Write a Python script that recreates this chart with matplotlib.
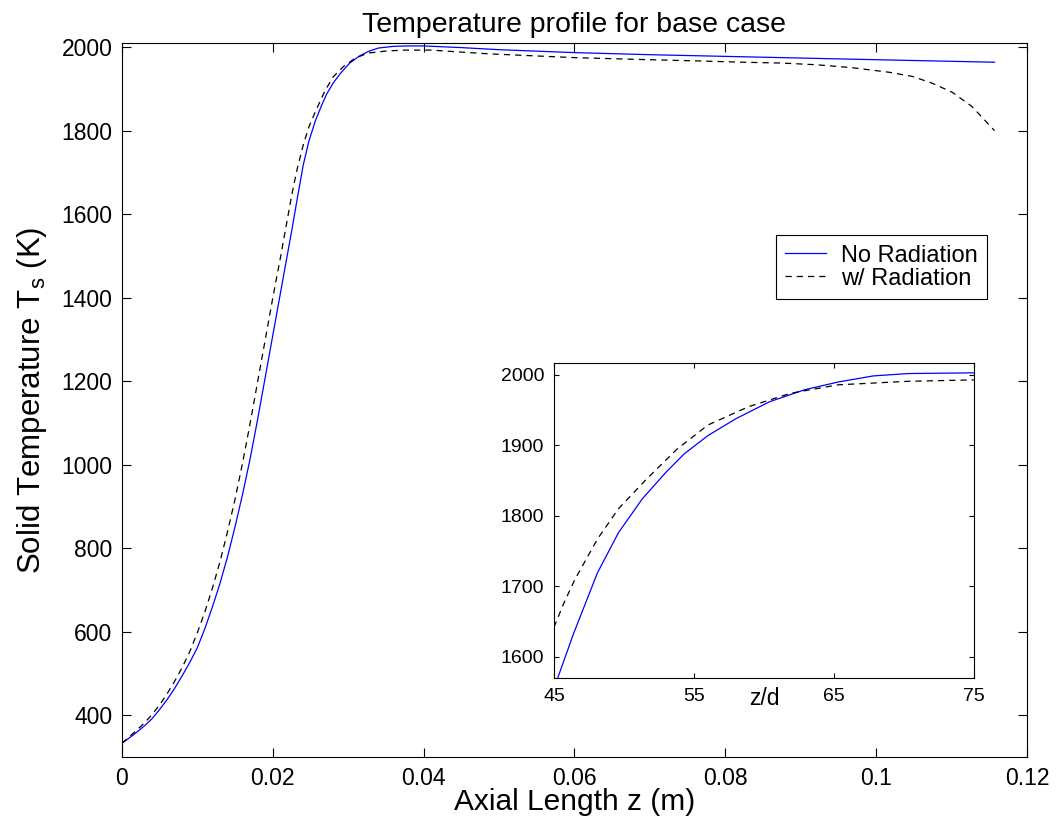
import numpy as np
import matplotlib
matplotlib.use('Agg')
import matplotlib.pyplot as plt

plt.rcParams['font.family'] = ['Liberation Sans', 'DejaVu Sans']
plt.rcParams['mathtext.fontset'] = 'custom'
plt.rcParams['mathtext.rm'] = 'Liberation Sans'

# main plot, axial length z (m) vs solid temperature (K)
z_norad = [0, 0.001, 0.002, 0.003, 0.004, 0.005, 0.006, 0.007, 0.008, 0.009,
           0.010, 0.011, 0.012, 0.013, 0.014, 0.015, 0.016, 0.017, 0.018, 0.019,
           0.020, 0.021, 0.022, 0.0226, 0.0232, 0.02405, 0.0248, 0.02565, 0.0265,
           0.02715, 0.028, 0.029, 0.0302, 0.0315, 0.0327, 0.034, 0.036, 0.038,
           0.040, 0.045, 0.050, 0.060, 0.070, 0.080, 0.090, 0.100, 0.1157]
T_norad = [333, 346, 360, 375, 392, 414, 438, 465, 495, 527,
           562, 608, 660, 716, 780, 852, 930, 1015, 1110, 1210,
           1310, 1410, 1510, 1570, 1633, 1719, 1776, 1824, 1862,
           1888, 1914, 1938, 1962, 1979, 1990, 1998, 2002, 2003,
           2003, 1999, 1994, 1987, 1982, 1978, 1974, 1970, 1964]

z_rad = [0, 0.001, 0.002, 0.003, 0.004, 0.005, 0.006, 0.007, 0.008, 0.009,
         0.010, 0.011, 0.012, 0.013, 0.014, 0.015, 0.016, 0.017, 0.018, 0.019,
         0.020, 0.021, 0.022, 0.0225, 0.02285, 0.02325, 0.02405, 0.0248, 0.0258,
         0.0269, 0.028, 0.02945, 0.03095, 0.03265, 0.03515, 0.0375, 0.041, 0.0487,
         0.060, 0.070, 0.0766, 0.0823, 0.0875, 0.092, 0.0968, 0.1017, 0.1048,
         0.1074, 0.1101, 0.1127, 0.1157]
T_rad = [333, 349, 365, 382, 402, 425, 452, 482, 515, 553,
         598, 648, 705, 768, 840, 918, 1005, 1100, 1200, 1300,
         1400, 1495, 1595, 1645, 1676, 1710, 1767, 1810, 1852,
         1895, 1929, 1955, 1974, 1986, 1991, 1993, 1993, 1984,
         1975, 1970, 1967, 1964, 1962, 1958, 1951, 1940, 1930,
         1914, 1892, 1858, 1800]

# inset, z/d
zd_norad = [45.0, 45.25, 46.4, 48.1, 49.6, 51.3, 53.0, 54.3, 56.0, 58.0, 60.4,
            62.9, 65.3, 67.8, 70.3, 75.0]
Td_norad = [1555, 1569, 1633, 1719, 1776, 1824, 1862, 1888, 1914, 1938, 1962,
            1979, 1990, 1998.6, 2002, 2003]
zd_rad = [45.0, 45.7, 46.5, 48.1, 49.6, 51.6, 53.8, 56.0, 58.9, 61.9, 65.3,
          70.3, 75.0]
Td_rad = [1642, 1676, 1710, 1767, 1810, 1852, 1895, 1929, 1955, 1974, 1986,
          1991, 1993]

fig = plt.figure(figsize=(10.57, 8.24), dpi=100)
ax = fig.add_axes([0.1154, 0.0813, 0.8562, 0.8665])

ax.plot(z_norad, T_norad, color='#0000ff', lw=0.9, label='No Radiation')
ax.plot(z_rad, T_rad, color='k', lw=0.9, dashes=(5, 4), label='w/ Radiation')

ax.set_xlim(0, 0.12)
ax.set_ylim(300, 2010)
ax.set_xticks([0, 0.02, 0.04, 0.06, 0.08, 0.1, 0.12])
ax.set_xticklabels(['0', '0.02', '0.04', '0.06', '0.08', '0.1', '0.12'])
ax.set_yticks(np.arange(400, 2001, 200))
ax.tick_params(direction='in', top=True, right=True, length=6.5, width=0.8,
               labelsize=16.5, pad=7)
for s in ax.spines.values():
    s.set_linewidth(0.8)

ax.set_title('Temperature profile for base case', fontsize=20.5, pad=8)
ax.set_xlabel('Axial Length z (m)', fontsize=21.5, labelpad=-1)
ax.set_ylabel('Solid Temperature T$_\\mathregular{s}$ (K)', fontsize=22.5, labelpad=9)

leg = ax.legend(loc='upper right', bbox_to_anchor=(0.956, 0.731), fontsize=17,
                frameon=True, fancybox=False, edgecolor='k', framealpha=1,
                handlelength=1.7, handletextpad=0.65, labelspacing=0.05,
                borderpad=0.4, borderaxespad=0)
leg.get_frame().set_linewidth(0.8)

# inset
ins = fig.add_axes([0.5241, 0.1772, 0.3974, 0.3823])
ins.plot(zd_norad, Td_norad, color='#0000ff', lw=0.9)
ins.plot(zd_rad, Td_rad, color='k', lw=0.9, dashes=(5, 4))
ins.set_xlim(45, 75)
ins.set_ylim(1570, 2017)
ins.set_xticks([45, 55, 65, 75])
ins.set_yticks([1600, 1700, 1800, 1900, 2000])
ins.tick_params(direction='in', top=True, right=True, length=3.6, width=0.8,
                labelsize=14, pad=7)
for s in ins.spines.values():
    s.set_linewidth(0.8)
ins.set_xlabel('z/d', fontsize=16.5)
ins.xaxis.set_label_coords(0.5, -0.03)

fig.savefig('out.png', dpi=100)
